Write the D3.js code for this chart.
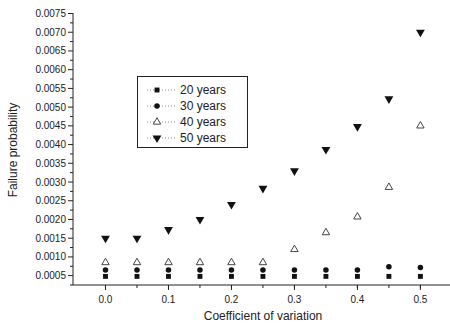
<!DOCTYPE html>
<html>
<head>
<meta charset="utf-8">
<script src="https://cdn.jsdelivr.net/npm/d3@7"></script>
<style>
body { margin: 0; background: #fff; }
text { font-family: "Liberation Sans", Arial, sans-serif; fill: #222; }
</style>
</head>
<body>
<script>
const cov = [0.0, 0.05, 0.1, 0.15, 0.2, 0.25, 0.3, 0.35, 0.4, 0.45, 0.5];
const years20 = [0.00048, 0.00048, 0.00048, 0.00048, 0.00048, 0.00048, 0.00048, 0.00048, 0.00048, 0.00048, 0.00048];
const years30 = [0.00065, 0.00065, 0.00065, 0.00065, 0.00065, 0.00065, 0.00065, 0.00065, 0.00065, 0.00074, 0.00072];
const years40 = [0.00085, 0.00085, 0.00085, 0.00085, 0.00085, 0.00085, 0.0012, 0.00165, 0.00207, 0.00286, 0.0045];
const years50 = [0.0015, 0.0015, 0.00173, 0.0020, 0.0024, 0.00283, 0.0033, 0.00387, 0.00448, 0.00522, 0.0070];
const seriesNames = ["20 years", "30 years", "40 years", "50 years"];
const yTicks = [0.0005, 0.0010, 0.0015, 0.0020, 0.0025, 0.0030, 0.0035, 0.0040, 0.0045, 0.0050, 0.0055, 0.0060, 0.0065, 0.0070, 0.0075];
const xTicks = [0.0, 0.1, 0.2, 0.3, 0.4, 0.5];

const options = { width: 450, height: 326 };

const svg = d3.select("body").append("svg")
    .attr("width", options.width)
    .attr("height", options.height);

const x = d3.scaleLinear().domain([-0.0516, 0.547]).range([73, 450]);
const y = d3.scaleLinear().domain([0.00025, 0.0075]).range([285, 13.5]);

// axes
const xAxis = svg.append("g").attr("transform", "translate(0,285)");
xAxis.append("line").attr("x1", 73).attr("x2", 450).attr("stroke", "#222");
xAxis.selectAll(".minor").data(d3.range(0, 0.55, 0.05)).enter().append("line")
    .attr("x1", d => x(d)).attr("x2", d => x(d)).attr("y1", 0).attr("y2", 3)
    .attr("stroke", "#222");
xAxis.selectAll(".major").data(xTicks).enter().append("line")
    .attr("x1", d => x(d)).attr("x2", d => x(d)).attr("y1", 0).attr("y2", 5)
    .attr("stroke", "#222");
xAxis.selectAll(".lbl").data(xTicks).enter().append("text")
    .attr("x", d => x(d)).attr("y", 18)
    .attr("text-anchor", "middle").attr("font-size", 10)
    .text(d => d.toFixed(1));

const yAxis = svg.append("g").attr("transform", "translate(73,0)");
yAxis.append("line").attr("y1", 285).attr("y2", 13).attr("stroke", "#222");
yAxis.selectAll(".minor").data(d3.range(0.00025, 0.0075, 0.0005)).enter().append("line")
    .attr("y1", d => y(d)).attr("y2", d => y(d)).attr("x1", 0).attr("x2", -3)
    .attr("stroke", "#222");
yAxis.selectAll(".major").data(yTicks).enter().append("line")
    .attr("y1", d => y(d)).attr("y2", d => y(d)).attr("x1", 0).attr("x2", -5)
    .attr("stroke", "#222");
yAxis.selectAll(".lbl").data(yTicks).enter().append("text")
    .attr("x", -7).attr("y", d => y(d)).attr("dy", "0.35em")
    .attr("text-anchor", "end").attr("font-size", 10)
    .text(d => d.toFixed(4));

svg.append("text")
    .attr("transform", "translate(17,150) rotate(-90)")
    .attr("text-anchor", "middle").attr("font-size", 12)
    .text("Failure probability");
svg.append("text")
    .attr("x", 263).attr("y", 320)
    .attr("text-anchor", "middle").attr("font-size", 12)
    .text("Coefficient of variation");

// markers
const symbols = [
    { type: d3.symbolSquare, size: 24, fill: "#111", stroke: "none" },
    { type: d3.symbolCircle, size: 24, fill: "#111", stroke: "none" },
    { type: d3.symbolTriangle, size: 24, fill: "none", stroke: "#444" },
    { type: d3.symbolTriangle, size: 34, fill: "#111", stroke: "none", rotate: 180 }
];
const series = [years20, years30, years40, years50];

series.forEach((vals, i) => {
    const s = symbols[i];
    svg.append("g").selectAll("path").data(vals).enter().append("path")
        .attr("d", d3.symbol().type(s.type).size(s.size))
        .attr("transform", (d, j) => `translate(${x(cov[j])},${y(d)}) rotate(${s.rotate || 0})`)
        .attr("fill", s.fill).attr("stroke", s.stroke).attr("stroke-width", 1);
});

// legend
const legend = svg.append("g");
legend.append("rect")
    .attr("x", 137.5).attr("y", 76.5).attr("width", 110).attr("height", 71)
    .attr("fill", "#fff").attr("stroke", "#222");
seriesNames.forEach((name, i) => {
    const s = symbols[i];
    const ly = 90 + i * 16;
    legend.append("line")
        .attr("x1", 147).attr("x2", 175).attr("y1", ly).attr("y2", ly)
        .attr("stroke", "#888").attr("stroke-dasharray", "1,2");
    legend.append("path")
        .attr("d", d3.symbol().type(s.type).size(s.size))
        .attr("transform", `translate(157,${ly}) rotate(${s.rotate || 0})`)
        .attr("fill", s.fill === "none" ? "#fff" : s.fill).attr("stroke", s.stroke);
    legend.append("text")
        .attr("x", 180).attr("y", ly).attr("dy", "0.35em")
        .attr("font-size", 12)
        .text(name);
});
</script>
</body>
</html>
